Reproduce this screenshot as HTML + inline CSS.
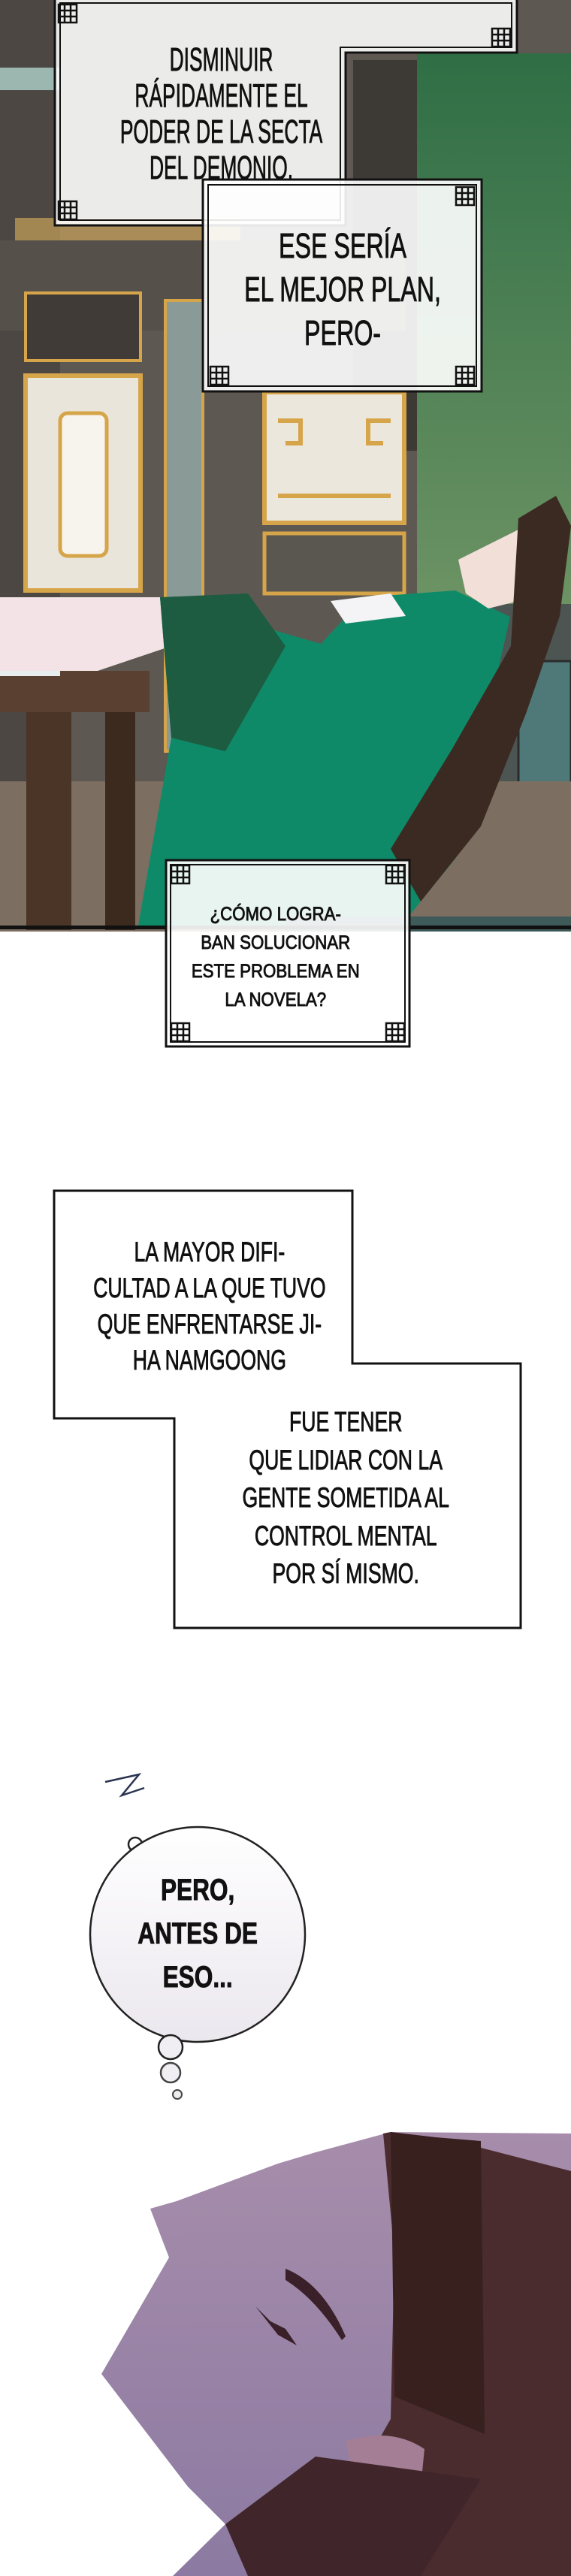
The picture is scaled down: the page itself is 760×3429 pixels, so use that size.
<!DOCTYPE html>
<html><head><meta charset="utf-8"><style>
*{margin:0;padding:0;box-sizing:border-box}
body{width:760px;height:3429px;background:#fff;position:relative;overflow:hidden}
.t{position:absolute;text-align:center;font-family:"Liberation Sans",sans-serif;color:#111;white-space:nowrap;-webkit-text-stroke:0.9px #111}
.t span{display:inline-block}
svg{position:absolute;left:0}
</style></head><body>
<svg width="760" height="1240" style="top:0">
<defs>
<linearGradient id="gw" x1="0" y1="0" x2="0" y2="1"><stop offset="0" stop-color="#2f6e45"/><stop offset="1" stop-color="#6c9364"/></linearGradient>
<g id="orn"><rect x="0" y="0" width="24" height="24" fill="none" stroke="#111" stroke-width="2.5"/><path d="M8 0V24M16 0V24M0 8H24M0 16H24" stroke="#111" stroke-width="2.5"/></g>
</defs>
<rect width="760" height="1240" fill="#5e5852"/>
<rect x="0" y="0" width="80" height="1240" fill="#4c4742"/>
<rect x="0" y="90" width="80" height="30" fill="#9bb7b0"/>
<rect x="555" y="71" width="205" height="733" fill="url(#gw)"/>
<rect x="470" y="80" width="85" height="520" fill="#3d3a36"/>
<rect x="20" y="290" width="300" height="30" fill="#c9a35a" opacity=".7"/>
<rect x="0" y="320" width="540" height="120" fill="#55504a"/>
<rect x="34" y="390" width="153" height="90" fill="#403b36" stroke="#d6a54a" stroke-width="4"/>
<rect x="34" y="500" width="153" height="286" fill="#eae5db" stroke="#d6a54a" stroke-width="6"/>
<rect x="80" y="550" width="62" height="190" rx="10" fill="#f7f4ee" stroke="#d6a54a" stroke-width="5"/>
<rect x="220" y="400" width="50" height="600" fill="#8a9a97" stroke="#d6a54a" stroke-width="4"/>
<rect x="352" y="522" width="186" height="174" fill="#ece7dc" stroke="#d6a54a" stroke-width="6"/>
<path d="M370 560h30v30h-20M520 560h-30v30h20M370 660h150" stroke="#d6a54a" stroke-width="6" fill="none"/>
<rect x="352" y="710" width="186" height="80" fill="#5a5650" stroke="#d6a54a" stroke-width="5"/>
<rect x="553" y="804" width="207" height="340" fill="#4d5553"/>
<rect x="690" y="880" width="70" height="190" fill="#4f7878" stroke="#2b2b2b" stroke-width="3"/>
<rect x="0" y="1040" width="760" height="200" fill="#7c6e60"/>
<rect x="0" y="893" width="199" height="55" fill="#5a4030"/>
<rect x="35" y="948" width="60" height="290" fill="#4a3526"/>
<rect x="140" y="948" width="40" height="290" fill="#3c2a1e"/>
<rect x="0" y="870" width="80" height="30" fill="#e8eef0"/>
<path d="M0 795L215 795L228 860L130 893L0 893Z" fill="#f3e3e6"/>
<path d="M300 911L592 900L592 1143L300 1143Z" fill="#6b5036"/>
<path d="M213 795L427 857L485 795L606 786L679 821L606 1143L534 1232L184 1232L228 982Z" fill="#0f8a68"/>
<path d="M213 795L330 790L380 860L300 1000L228 982Z" fill="#1d5c40"/>
<path d="M440 800L520 790L540 820L460 830Z" fill="#f4f4f6"/>
<path d="M610 745L700 700L735 715L730 790L650 810L620 790Z" fill="#f2dfd8"/>
<path d="M690 690L740 660L760 700L745 820L700 950L640 1100L560 1200L520 1130L600 1000L680 860Z" fill="#3b2a22"/>
<rect x="380" y="1220" width="380" height="20" fill="#3e5a59"/>
<rect x="0" y="1232" width="760" height="5" fill="#111"/>
</svg>

<svg width="760" height="540" style="top:0">
<path d="M73 -4H688V70H460V300H73Z" fill="#fff" fill-opacity=".88" stroke="#111" stroke-width="3"/>
<path d="M80 4H681V63H453V293H80Z" fill="none" stroke="#111" stroke-width="2"/>
<use href="#orn" x="78" y="6"/><use href="#orn" x="655" y="38"/><use href="#orn" x="78" y="268"/>
<rect x="270" y="239" width="371" height="282" fill="#fff" fill-opacity=".9" stroke="#111" stroke-width="3"/>
<rect x="277" y="246" width="357" height="268" fill="none" stroke="#111" stroke-width="2"/>
<use href="#orn" x="280" y="488"/><use href="#orn" x="607" y="249"/><use href="#orn" x="607" y="488"/>
</svg>
<div class="t" style="left:70px;width:400px;top:56px;font-size:44px;line-height:48px"><span style="transform:scaleX(.6)">DISMINUIR<br>RÁPIDAMENTE EL<br>PODER DE LA SECTA<br>DEL DEMONIO.</span></div>
<div class="t" style="left:256px;width:400px;top:298px;font-size:46px;line-height:58px"><span style="transform:scaleX(.7)">ESE SERÍA<br>EL MEJOR PLAN,<br>PERO-</span></div>

<svg width="760" height="260" style="top:1140px">
<rect x="221" y="5" width="324" height="248" fill="#fff" fill-opacity=".9" stroke="#111" stroke-width="3"/>
<rect x="227" y="11" width="312" height="236" fill="none" stroke="#111" stroke-width="2"/>
<use href="#orn" x="228" y="12"/><use href="#orn" x="514" y="12"/><use href="#orn" x="228" y="222"/><use href="#orn" x="514" y="222"/>
</svg>
<div class="t" style="left:217px;width:300px;top:1198px;font-size:25px;line-height:38px"><span style="transform:scaleX(.89)">¿CÓMO LOGRA-<br>BAN SOLUCIONAR<br>ESTE PROBLEMA EN<br>LA NOVELA?</span></div>

<svg width="760" height="620" style="top:1570px">
<path d="M72 15H469V245H693V597H232V318H72Z" fill="#fff" stroke="#111" stroke-width="3"/>
</svg>
<div class="t" style="left:64px;width:400px;top:1643px;font-size:37px;line-height:48px"><span style="transform:scaleX(.72)">LA MAYOR DIFI-<br>CULTAD A LA QUE TUVO<br>QUE ENFRENTARSE JI-<br>HA NAMGOONG</span></div>
<div class="t" style="left:260px;width:400px;top:1868px;font-size:37px;line-height:50.5px"><span style="transform:scaleX(.72)">FUE TENER<br>QUE LIDIAR CON LA<br>GENTE SOMETIDA AL<br>CONTROL MENTAL<br>POR SÍ MISMO.</span></div>

<svg width="760" height="1129" style="top:2300px">
<defs><linearGradient id="bb" x1="0" y1="0" x2="0" y2="1"><stop offset="0" stop-color="#fff"/><stop offset="1" stop-color="#ebe7ee"/></linearGradient>
<linearGradient id="sk" x1="0" y1="0" x2="0" y2="1"><stop offset="0" stop-color="#a78dab"/><stop offset="1" stop-color="#8c7aa2"/></linearGradient></defs>
<path d="M140 72L185 62L162 90L192 80" stroke="#2a3350" stroke-width="2.5" fill="none"/>
<circle cx="180" cy="155" r="9" fill="#fff" stroke="#222" stroke-width="2.5"/>
<ellipse cx="263" cy="275" rx="143" ry="143" fill="url(#bb)" stroke="#222" stroke-width="2.5"/>
<circle cx="227" cy="425" r="16" fill="#f1eef3" stroke="#222" stroke-width="2.5"/>
<circle cx="227" cy="459" r="13" fill="#f1eef3" stroke="#444" stroke-width="2.5"/>
<circle cx="236" cy="488" r="6" fill="#eee" stroke="#444" stroke-width="2"/>
<path d="M520 538L760 540L760 1129L230 1129L300 1060L250 1010L135 860L225 705L200 640L235 630L370 580L420 565Z" fill="url(#sk)"/>
<path d="M510 540L520 538L625 555L760 590L760 1129L330 1129L480 990L520 920L525 700Z" fill="#4a2c2e"/>
<path d="M520 538L580 545L640 550L645 940L525 890Z" fill="#38201f"/>
<path d="M380 720Q430 740 460 810L455 815Q420 760 380 735Z" fill="#3a2028"/>
<path d="M340 770L360 790L380 800L395 822L370 808Z" fill="#3a2028"/>
<path d="M460 950Q520 930 565 960L560 1010Q510 1000 470 1000Z" fill="#a47e94"/>
<path d="M300 1060L420 970L640 1000L560 1129L330 1129Z" fill="#40262a"/>
</svg>
<div class="t" style="left:113px;width:300px;top:2487px;font-size:40px;line-height:58px;font-weight:bold"><span style="transform:scaleX(.79)">PERO,<br>ANTES DE<br>ESO...</span></div>
</body></html>
